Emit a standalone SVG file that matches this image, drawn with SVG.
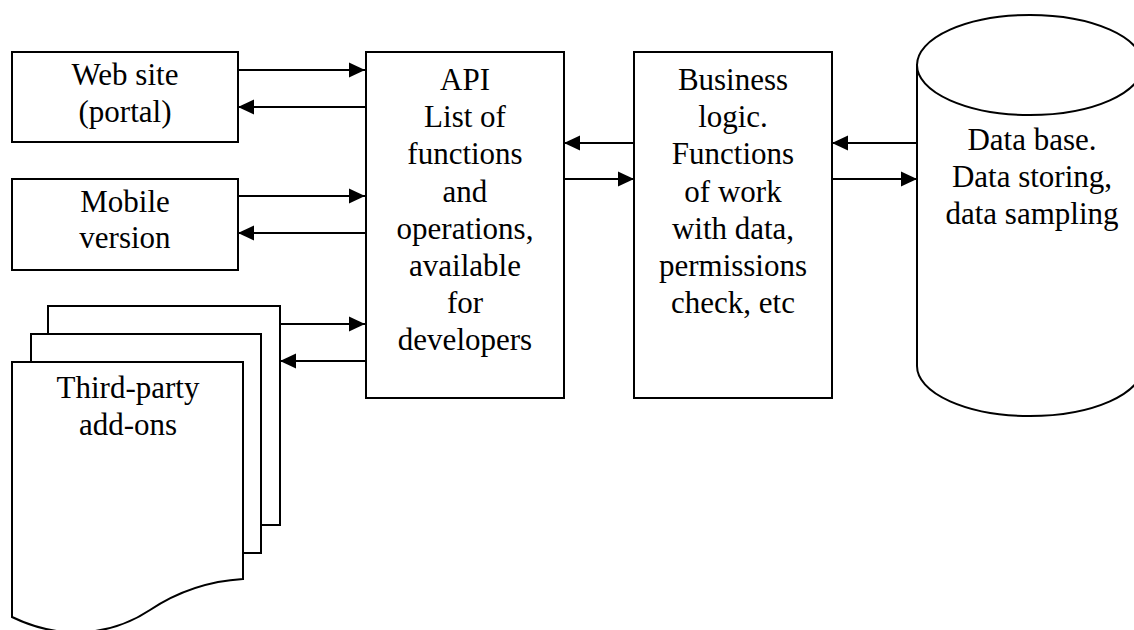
<svg xmlns="http://www.w3.org/2000/svg" width="1134" height="630" viewBox="0 0 1134 630">
<style>
.shape{fill:#fff;stroke:#000;stroke-width:2}
.lbl{font-family:"Liberation Serif","DejaVu Serif",serif;font-size:31px;fill:#000;text-anchor:middle}
.conn{stroke:#000;stroke-width:2;fill:none;marker-end:url(#ah)}
</style>
<defs>
<marker id="ah" markerUnits="userSpaceOnUse" markerWidth="16" markerHeight="16" refX="16" refY="8" orient="auto">
<path d="M0,0.5 L16,8 L0,15.5 Z" fill="#000"/>
</marker>
</defs>
<rect width="1134" height="630" fill="#fff"/>
<g id="web">
<rect class="shape" x="12" y="52" width="226" height="90"/>
<text class="lbl" x="125" y="85">Web site</text>
<text class="lbl" x="125" y="122">(portal)</text>
</g>
<g id="mobile">
<rect class="shape" x="12" y="179" width="226" height="91"/>
<text class="lbl" x="125" y="212">Mobile</text>
<text class="lbl" x="125" y="248">version</text>
</g>
<g id="addons">
<rect class="shape" x="48" y="306" width="232" height="219"/>
<rect class="shape" x="31" y="334" width="230" height="219"/>
<path class="shape" d="M12,362 H243 V579 C210,581 180,590 150,610 C120,630 70,645 12,617 Z"/>
<text class="lbl" x="128" y="398">Third-party</text>
<text class="lbl" x="128" y="435">add-ons</text>
</g>
<g id="api">
<rect class="shape" x="366" y="52" width="198" height="346"/>
<text class="lbl" x="465" y="90">API</text>
<text class="lbl" x="465" y="127">List of</text>
<text class="lbl" x="465" y="164">functions</text>
<text class="lbl" x="465" y="202">and</text>
<text class="lbl" x="465" y="239">operations,</text>
<text class="lbl" x="465" y="276">available</text>
<text class="lbl" x="465" y="313">for</text>
<text class="lbl" x="465" y="350">developers</text>
</g>
<g id="logic">
<rect class="shape" x="634" y="52" width="198" height="346"/>
<text class="lbl" x="733" y="90">Business</text>
<text class="lbl" x="733" y="127">logic.</text>
<text class="lbl" x="733" y="164">Functions</text>
<text class="lbl" x="733" y="202">of work</text>
<text class="lbl" x="733" y="239">with data,</text>
<text class="lbl" x="733" y="276">permissions</text>
<text class="lbl" x="733" y="313">check, etc</text>
</g>
<g id="db">
<path class="shape" d="M917,65 V366 A113,50 0 0 0 1143,366 V65 Z"/>
<ellipse class="shape" cx="1030" cy="65" rx="113" ry="50"/>
<text class="lbl" x="1032" y="150">Data base.</text>
<text class="lbl" x="1032" y="187">Data storing,</text>
<text class="lbl" x="1032" y="224">data sampling</text>
</g>
<g id="connectors">
<line class="conn" x1="238" y1="70" x2="365" y2="70"/>
<line class="conn" x1="365" y1="107" x2="238" y2="107"/>
<line class="conn" x1="238" y1="196" x2="365" y2="196"/>
<line class="conn" x1="365" y1="233" x2="238" y2="233"/>
<line class="conn" x1="280" y1="324" x2="365" y2="324"/>
<line class="conn" x1="365" y1="361" x2="280" y2="361"/>
<line class="conn" x1="634" y1="143" x2="564" y2="143"/>
<line class="conn" x1="564" y1="179" x2="634" y2="179"/>
<line class="conn" x1="917" y1="143" x2="832" y2="143"/>
<line class="conn" x1="832" y1="179" x2="917" y2="179"/>
</g>
</svg>
